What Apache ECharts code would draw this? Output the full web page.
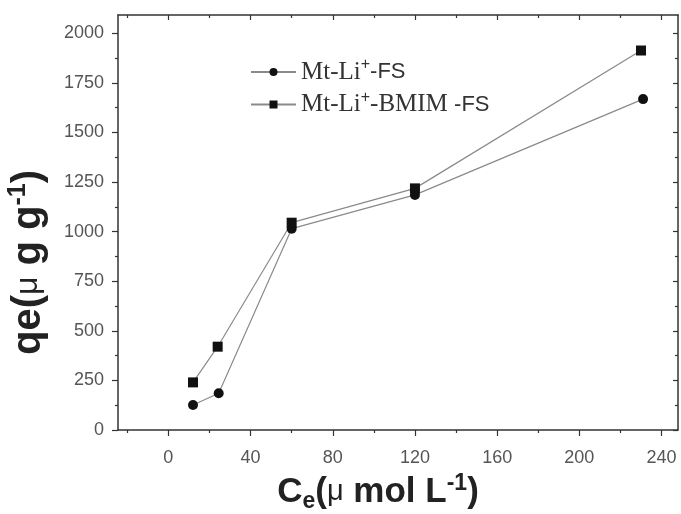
<!DOCTYPE html>
<html>
<head>
<meta charset="utf-8">
<script src="https://cdn.jsdelivr.net/npm/echarts@6/dist/echarts.min.js"></script>
<style>
html,body{margin:0;padding:0;background:#fff;}
#c{width:681px;height:514px;}
</style>
</head>
<body>
<div id="c"></div>
<script>
// ---- data ----
const ceFS = [12, 24.5, 60, 120, 231];
const qeFS = [126, 185, 1015, 1185, 1668];
const ceBMIM = [12, 24, 60, 120, 230];
const qeBMIM = [240, 420, 1045, 1218, 1913];

const xMajor = [0, 40, 80, 120, 160, 200, 240];
const xMinor = [-20, 20, 60, 100, 140, 180, 220];
const yMajor = [0, 250, 500, 750, 1000, 1250, 1500, 1750, 2000];
const yMinor = [125, 375, 625, 875, 1125, 1375, 1625, 1875];

const seriesNames = ['Mt-Li+-FS', 'Mt-Li+-BMIM -FS'];

const X_MIN = -24.5, X_MAX = 248, Y_MIN = 0, Y_MAX = 2092;

function pairs(xs, ys) { return xs.map((x, i) => [x, ys[i]]); }

const axisColor = '#333';
const SANS = 'Liberation Sans, Arial, sans-serif';
const SERIF = 'Liberation Serif, Times New Roman, serif';
function xAx(opt) {
  return Object.assign({
    type: 'value', min: X_MIN, max: X_MAX, gridIndex: 0,
    splitLine: { show: false },
    axisLine: { show: false, onZero: false, lineStyle: { color: axisColor, width: 1.5 } },
    axisTick: { show: false },
    axisLabel: { show: false }
  }, opt);
}
function yAx(opt) {
  return Object.assign({
    type: 'value', min: Y_MIN, max: Y_MAX, gridIndex: 0,
    splitLine: { show: false },
    axisLine: { show: false, onZero: false, lineStyle: { color: axisColor, width: 1.5 } },
    axisTick: { show: false },
    axisLabel: { show: false }
  }, opt);
}

const chart = echarts.init(document.getElementById('c'), null, { renderer: 'canvas' });
chart.setOption({
  backgroundColor: '#fff',
  animation: false,
  grid: { left: 118, right: 3, top: 15, bottom: 84, containLabel: false, outerBoundsMode: 'none' },
  xAxis: [
    xAx({
      position: 'bottom',
      axisLine: { show: true, onZero: false, lineStyle: { color: axisColor, width: 1.5 } },
      axisTick: { show: true, inside: false, length: 6, customValues: xMajor, lineStyle: { color: axisColor, width: 1.2 } },
      axisLabel: { show: true, customValues: xMajor, margin: 19, fontFamily: SANS, fontSize: 18, color: '#555',
        formatter: v => String(v) },
      name: '{b|C}{sub|e}{b|(}{mu|μ}{b| mol L}{sup|-1}{b|)}',
      nameLocation: 'middle',
      nameGap: 39,
      nameTextStyle: {
        padding: [0, 40, 0, 0],
        rich: {
          b: { fontFamily: SANS, fontWeight: 'bold', fontSize: 35, color: '#222' },
          sub: { fontFamily: SANS, fontWeight: 'bold', fontSize: 23, color: '#222', padding: [18, 0, 0, 0] },
          sup: { fontFamily: SANS, fontWeight: 'bold', fontSize: 23, color: '#222', padding: [0, 0, 18, 0] },
          mu: { fontFamily: SANS, fontSize: 29, color: '#222' }
        }
      }
    }),
    xAx({ position: 'bottom', axisTick: { show: true, inside: false, length: 3, customValues: xMinor, lineStyle: { color: axisColor, width: 1.2 } } }),
    xAx({
      position: 'top',
      axisLine: { show: true, onZero: false, lineStyle: { color: axisColor, width: 1.5 } },
      axisTick: { show: true, inside: true, length: 5, customValues: xMajor, lineStyle: { color: axisColor, width: 1.2 } }
    }),
    xAx({ position: 'top', axisTick: { show: true, inside: true, length: 3, customValues: xMinor, lineStyle: { color: axisColor, width: 1.2 } } })
  ],
  yAxis: [
    yAx({
      position: 'left',
      axisLine: { show: true, onZero: false, lineStyle: { color: axisColor, width: 1.5 } },
      axisTick: { show: true, inside: false, length: 6, customValues: yMajor, lineStyle: { color: axisColor, width: 1.2 } },
      axisLabel: { show: true, customValues: yMajor, margin: 14, fontFamily: SANS, fontSize: 18, color: '#555',
        formatter: v => String(v) },
      name: '{b|qe(}{mu|μ}{b| g g}{sup|-1}{b|)}',
      nameLocation: 'middle',
      nameGap: 67,
      nameRotate: 90,
      nameTextStyle: {
        padding: [0, 80, 0, 0],
        rich: {
          b: { fontFamily: SANS, fontWeight: 'bold', fontSize: 40, color: '#222' },
          sup: { fontFamily: SANS, fontWeight: 'bold', fontSize: 25, color: '#222', padding: [0, 0, 20, 0] },
          mu: { fontFamily: SANS, fontSize: 32, color: '#222' }
        }
      }
    }),
    yAx({ position: 'left', axisTick: { show: true, inside: false, length: 3, customValues: yMinor, lineStyle: { color: axisColor, width: 1.2 } } }),
    yAx({
      position: 'right',
      axisLine: { show: true, onZero: false, lineStyle: { color: axisColor, width: 1.5 } },
      axisTick: { show: true, inside: true, length: 5, customValues: yMajor, lineStyle: { color: axisColor, width: 1.2 } }
    }),
    yAx({ position: 'right', axisTick: { show: true, inside: true, length: 3, customValues: yMinor, lineStyle: { color: axisColor, width: 1.2 } } })
  ],
  legend: {
    orient: 'vertical',
    left: 245,
    top: 52,
    itemWidth: 45,
    itemHeight: 10,
    itemGap: 5,
    data: seriesNames,
    formatter: function (name) {
      if (name === seriesNames[0]) return '{s|Mt-Li}{sup|+}{a|-FS}';
      return '{s|Mt-Li}{sup|+}{s|-BMIM }{a|-FS}';
    },
    textStyle: {
      color: '#333',
      rich: {
        s: { fontFamily: SERIF, fontSize: 25, color: '#333' },
        sup: { fontFamily: SANS, fontSize: 16, color: '#333', padding: [0, 0, 14, 0] },
        a: { fontFamily: SANS, fontSize: 22, color: '#333' }
      }
    }
  },
  series: [
    {
      name: seriesNames[0], type: 'line', xAxisIndex: 0, yAxisIndex: 0,
      data: pairs(ceFS, qeFS),
      symbol: 'circle', symbolSize: 10,
      itemStyle: { color: '#111' },
      lineStyle: { color: '#8a8a8a', width: 1.2 }
    },
    {
      name: seriesNames[1], type: 'line', xAxisIndex: 0, yAxisIndex: 0,
      data: pairs(ceBMIM, qeBMIM),
      symbol: 'rect', symbolSize: 10,
      itemStyle: { color: '#111' },
      lineStyle: { color: '#8a8a8a', width: 1.2 }
    }
  ]
});
</script>
</body>
</html>
